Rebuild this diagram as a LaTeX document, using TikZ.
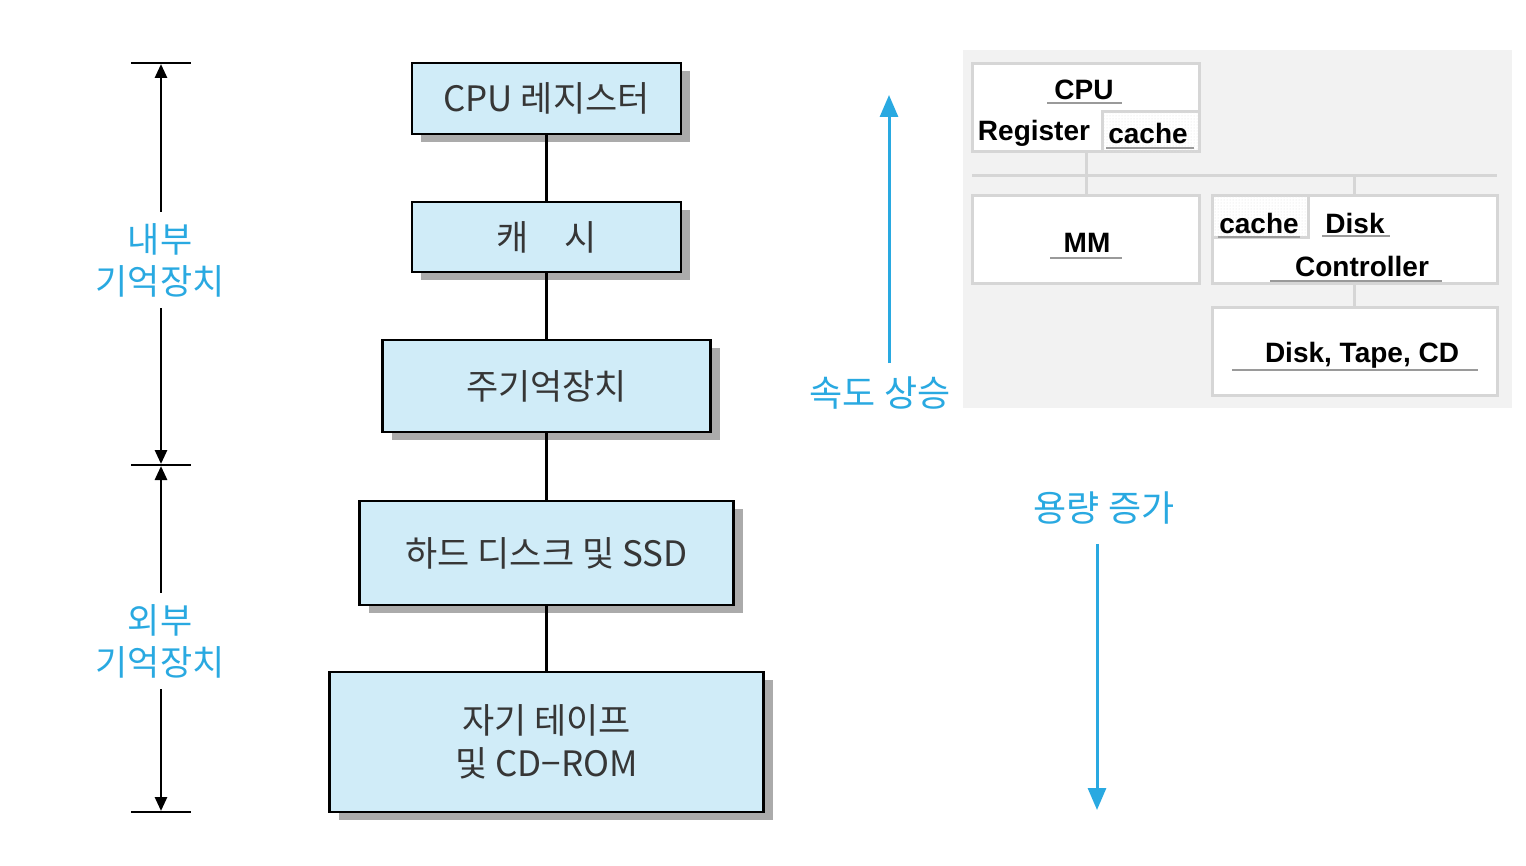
\documentclass[tikz,border=0pt]{standalone}
\usepackage{fontspec}
\setmainfont{Noto Sans CJK KR}
\newfontfamily\panelfont{Liberation Sans}
\usetikzlibrary{arrows.meta,shadows,patterns}
\definecolor{boxfill}{HTML}{D0ECF8}
\definecolor{boxtext}{HTML}{363636}
\definecolor{lblue}{HTML}{29A9E1}
\definecolor{panelbg}{HTML}{F2F2F2}
\definecolor{panelline}{HTML}{D6D6D6}
\definecolor{ulcol}{HTML}{9A9A9A}
\tikzset{
  memblock/.style={draw=black, line width=2.6pt, fill=boxfill, text=boxtext,
    font=\fontsize{35}{44}\selectfont, align=center,
    drop shadow={shadow xshift=9pt, shadow yshift=-8pt, fill=black!33, opacity=1}},
  link/.style={line width=2.8pt, draw=black},
  dimarrow/.style={line width=2.8pt, -{Triangle[width=12pt,length=14pt]}},
  tick/.style={line width=2.4pt},
  sidelabel/.style={text=lblue, font=\fontsize{35}{42}\selectfont, align=center, inner xsep=0pt, inner ysep=11pt},
  bluelabel/.style={text=lblue, font=\fontsize{36}{40}\selectfont},
  bluearrow/.style={draw=lblue, line width=3pt, -{Triangle[width=18pt,length=22pt]}},
  pbox/.style={draw=panelline, line width=3pt, fill=white, inner sep=0pt},
  cachebox/.style={draw=panelline, line width=3pt, fill=white, inner sep=0pt,
    postaction={pattern=dots, pattern color=black!12}},
  ptext/.style={font=\panelfont\bfseries\fontsize{28}{30}\selectfont, text=black, inner sep=0pt},
  uline/.style={draw=ulcol, line width=1.6pt},
  pline/.style={draw=panelline, line width=3pt}
}
\begin{document}
\begin{tikzpicture}[x=1pt,y=-1pt]
\useasboundingbox (0,0) rectangle (1526,866);
\fill[white] (0,0) rectangle (1526,866);

% ---------- memory hierarchy ----------
\node[memblock, minimum width=269pt, minimum height=71pt] (reg) at (546.5,98.5) {CPU 레지스터};
\node[memblock, minimum width=269pt, minimum height=70pt] (cache) at (546.5,237) {캐\hspace{1.0em}시};
\node[memblock, minimum width=328pt, minimum height=92pt] (main) at (546.5,386) {주기억장치};
\node[memblock, minimum width=374pt, minimum height=104pt] (disk) at (546.5,553) {하드 디스크 및 SSD};
\node[memblock, minimum width=434pt, minimum height=140pt] (tape) at (546.5,742) {자기 테이프\\[-1pt]및 CD−ROM};

\draw[link] (reg.south) -- (cache.north);
\draw[link] (cache.south) -- (main.north);
\draw[link] (main.south) -- (disk.north);
\draw[link] (disk.south) -- (tape.north);

% ---------- left dimension ----------
\coordinate (t1) at (161,63);
\coordinate (t2) at (161,465);
\coordinate (t3) at (161,812);
\draw[tick] ([xshift=-30pt]t1) -- ([xshift=30pt]t1);
\draw[tick] ([xshift=-30pt]t2) -- ([xshift=30pt]t2);
\draw[tick] ([xshift=-30pt]t3) -- ([xshift=30pt]t3);

\node[sidelabel] (inner) at (160,260) {내부\\기억장치};
\node[sidelabel] (outer) at (160,641) {외부\\기억장치};

\draw[dimarrow] (inner.north -| t1) -- ([yshift=-1pt]t1);
\draw[dimarrow] (inner.south -| t1) -- ([yshift=1pt]t2);
\draw[dimarrow] (outer.north -| t2) -- ([yshift=-1pt]t2);
\draw[dimarrow] (outer.south -| t3) -- ([yshift=1pt]t3);

% ---------- speed / capacity ----------
\node[bluelabel] (speed) at (880,393) {속도 상승};
\coordinate (sptop) at (889,95);
\draw[bluearrow] ([yshift=10pt]speed.north -| sptop) -- (sptop);

\node[bluelabel] (cap) at (1104,508) {용량 증가};
\coordinate (capbot) at (1097,810);
\draw[bluearrow] ([yshift=-16pt]cap.south -| capbot) -- (capbot);

% ---------- right panel ----------
\fill[panelbg] (963,50) rectangle (1512,408);

\coordinate (busl) at (972,176);
\coordinate (busr) at (1497,176);
\draw[pline] (busl) -- (busr);

\node[pbox, minimum width=227pt, minimum height=88pt] (cpu) at (1085.5,108) {};
\node[cachebox, minimum width=97pt, minimum height=40pt] (ccache) at (1150.5,132) {};
\node[pbox, minimum width=227pt, minimum height=88pt] (mm) at (1085.5,240) {};
\node[pbox, minimum width=285pt, minimum height=88pt] (dc) at (1354.5,240) {};
\node[cachebox, minimum width=96pt, minimum height=42pt] (dcache) at (1260,217) {};
\node[pbox, minimum width=285pt, minimum height=88pt] (dtc) at (1354.5,352) {};

\draw[pline] (cpu.south -| 1086,0) -- (mm.north -| 1086,0);
\draw[pline] (busr -| dc.north) -- (dc.north);
\draw[pline] (dc.south) -- (dtc.north);

\node[ptext] (tcpu) at (1084,90) {CPU};
\node[ptext] (treg) at (1034,133) {Register};
\node[ptext] (tcache) at (1148,133) {cache};
\node[ptext] (tmm) at (1087,243) {MM};
\node[ptext] (tcache2) at (1259,223) {cache};
\node[ptext] (tdisk) at (1355,223) {Disk};
\node[ptext] (tctrl) at (1362,266) {Controller};
\node[ptext] (tdtc) at (1362,355) {Disk, Tape, CD};

\draw[uline] (1047,103) -- (1122,103);
\draw[uline] (1106,148) -- (1194,148);
\draw[uline] (1050,258) -- (1122,258);
\draw[uline] (1218,237) -- (1300,237);
\draw[uline] (1322,236) -- (1390,236);
\draw[uline] (1270,281) -- (1442,281);
\draw[uline] (1232,370) -- (1478,370);
\end{tikzpicture}
\end{document}
